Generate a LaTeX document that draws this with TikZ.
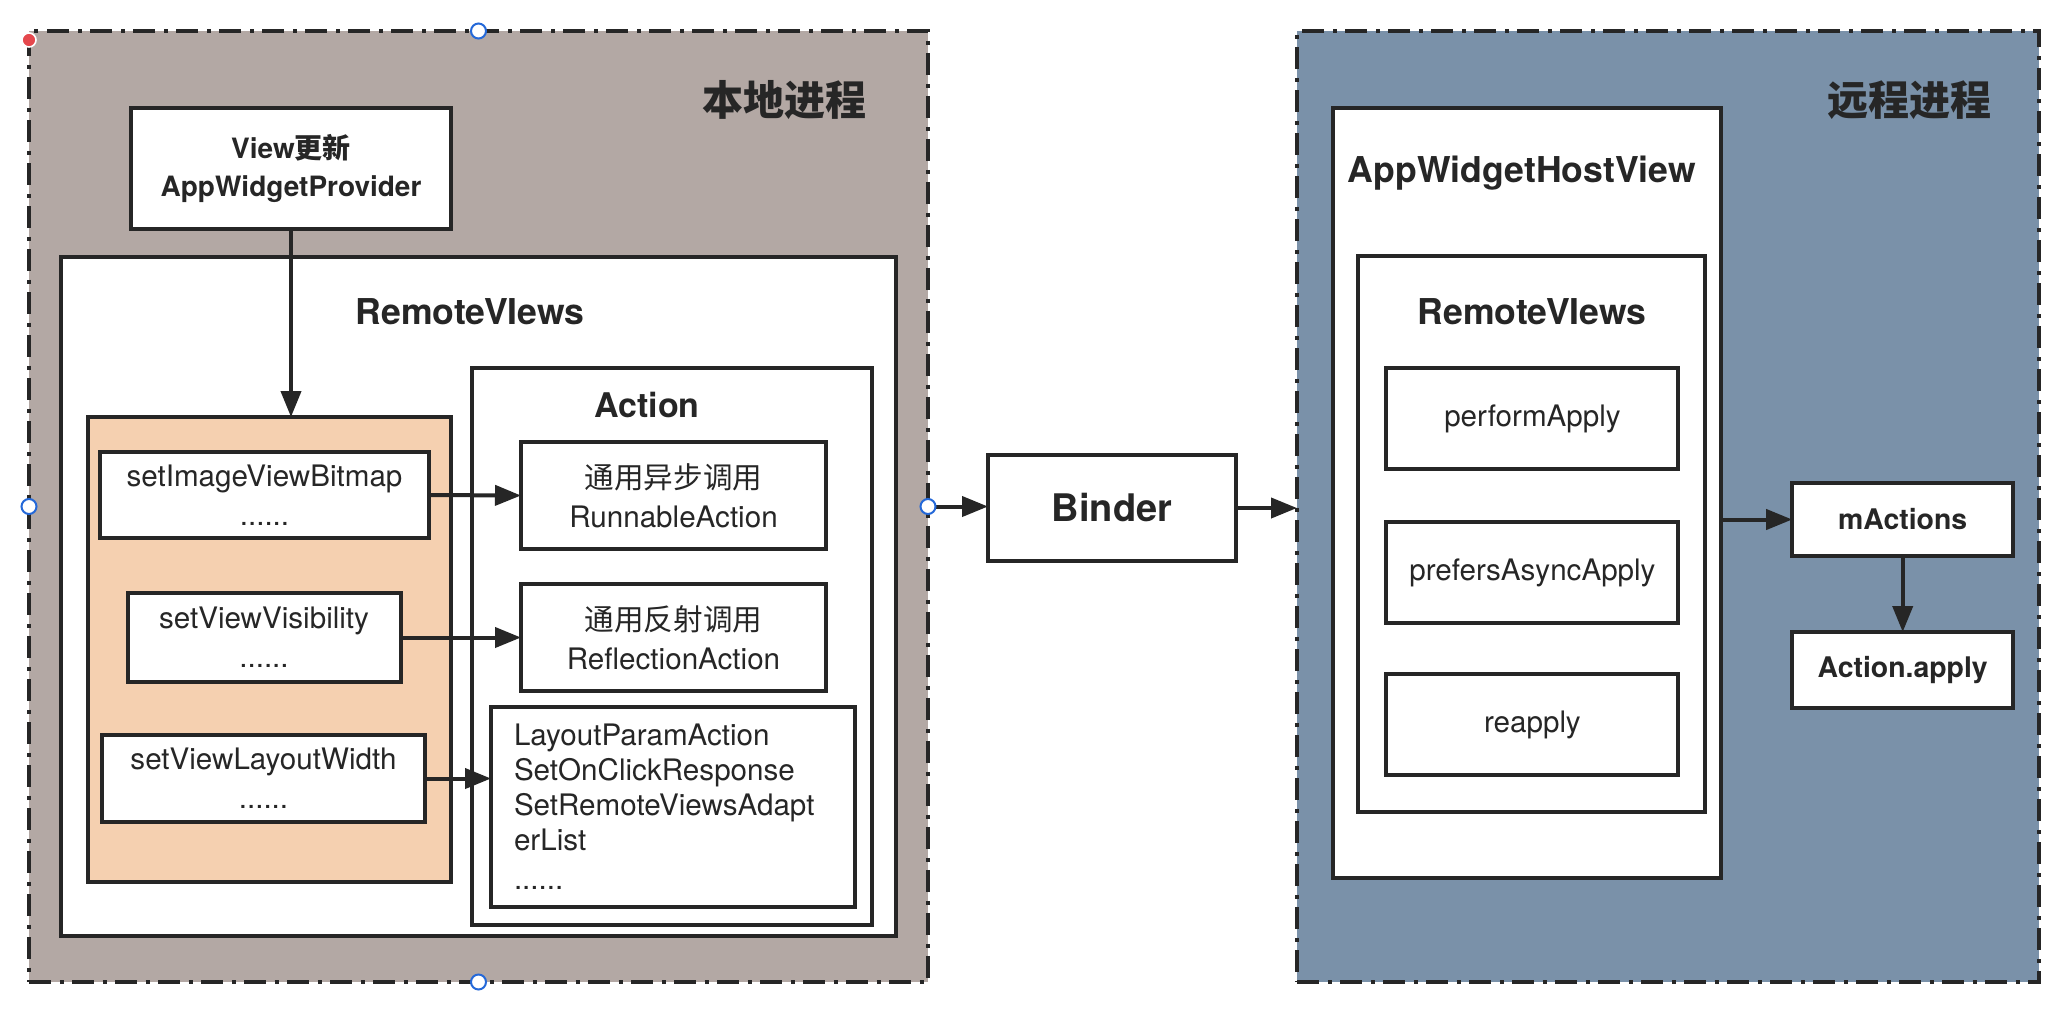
\documentclass[tikz,border=0pt]{standalone}
\usepackage{fontspec}
\setmainfont{TeX Gyre Heros}
\newfontfamily\cjk{Noto Sans CJK SC}
\usetikzlibrary{arrows.meta}
\definecolor{localbg}{HTML}{B3A8A4}
\definecolor{remotebg}{HTML}{7A91A9}
\definecolor{setbg}{HTML}{F5D0B0}
\definecolor{ink}{HTML}{262626}
\definecolor{handle}{HTML}{2468D8}
\definecolor{reddot}{HTML}{E5484D}

\begin{document}
\begin{tikzpicture}[x=0.5pt,y=-0.5pt,
    wh/.style 2 args={minimum width=#1*0.5pt,minimum height=#2*0.5pt},
    proc/.style={draw=ink,line width=2pt,dash pattern=on 11pt off 4.25pt on 2pt off 4.25pt,inner sep=0pt,outer sep=0pt},
    box/.style={draw=ink,fill=white,line width=2pt,inner sep=0pt,outer sep=0pt,align=center,text=ink,font=\fontsize{14.8}{19.5}\selectfont},
    bbox/.style={box,font=\fontsize{14.2}{19}\selectfont\bfseries},
    title/.style={text=ink,inner sep=0pt,font=\fontsize{17.8}{20}\selectfont\bfseries},
    arr/.style={draw=ink,line width=2pt,-{Triangle[length=13pt,width=10pt]}},
    knob/.style={circle,draw=handle,fill=white,line width=1pt,minimum size=7.5pt,inner sep=0pt}]
    \useasboundingbox (0,0) rectangle (2050,1008);

    % local process
    \node[proc,fill=localbg,wh={899}{951}] (local) at (478.5,506.5) {};
    \node[text=ink,font=\cjk\fontsize{20.5}{24}\selectfont\bfseries] (localtitle) at (784,100) {本地进程};
    \node[bbox,wh={320}{121},font=\fontsize{14}{19}\selectfont\bfseries] (provider) at (291,168.5) {View{\cjk 更新}\\AppWidgetProvider};
    \node[box,wh={835}{679}] (rv) at (478.5,596.5) {};
    \node[title] (rvtitle) at (470,312) {RemoteVIews};
    \node[box,fill=setbg,wh={363}{465}] (setters) at (269.5,649.5) {};
    \node[box,wh={400}{557}] (action) at (672,646.5) {};
    \node[title,font=\fontsize{17}{20}\selectfont\bfseries] (actiontitle) at (647,405) {Action};

    \node[box,wh={329}{86}] (bitmap) at (264.5,495) {setImageViewBitmap\\......};
    \node[box,wh={273}{89}] (visib) at (264,637.5) {setViewVisibility\\......};
    \node[box,wh={323}{87}] (layoutw) at (263.5,778.5) {setViewLayoutWidth\\......};

    \node[box,wh={305}{107}] (runnable) at (673.5,495.5) {{\cjk 通用异步调用}\\RunnableAction};
    \node[box,wh={305}{107}] (reflect) at (673.5,637.5) {{\cjk 通用反射调用}\\ReflectionAction};
    \node[box,wh={364}{200},align=left,text width=159pt,inner xsep=11.5pt,font=\fontsize{14.8}{17.5}\selectfont] (others) at (673,807)
        {LayoutParamAction\\SetOnClickResponse\\SetRemoteViewsAdapt\\erList\\[2pt]......};

    % remote process
    \node[proc,fill=remotebg,wh={742}{951}] (remote) at (1668,506.5) {};
    \node[text=ink,font=\cjk\fontsize{20.5}{24}\selectfont\bfseries] (remotetitle) at (1909,100) {远程进程};
    \node[box,wh={388}{770}] (host) at (1527,493) {};
    \node[title] (hosttitle) at (1522,173) {AppWidgetHostView};
    \node[box,wh={347}{556}] (rv2) at (1531.7,534) {};
    \node[title] (rv2title) at (1532,312) {RemoteVIews};
    \node[box,wh={292}{101}] (perform) at (1532.4,418.5) {performApply};
    \node[box,wh={292}{101}] (prefers) at (1532.4,572.5) {prefersAsyncApply};
    \node[box,wh={292}{101}] (reapply) at (1532.4,724.5) {reapply};
    \node[bbox,wh={221}{73}] (mactions) at (1902.7,519.5) {mActions};
    \node[bbox,wh={221}{76}] (apply) at (1902.7,670) {Action.apply};

    \node[bbox,wh={248}{106},font=\fontsize{19}{20}\selectfont\bfseries] (binder) at (1112,508) {Binder};

    % arrows
    \draw[arr] (provider.south) -- (provider.south |- setters.north);
    \draw[arr] (bitmap.east) -- (runnable.west);
    \draw[arr] (visib.east) -- (reflect.west);
    \draw[arr] (layoutw.east) -- (layoutw.east -| others.west);
    \draw[arr] (local.east) -- (local.east -| binder.west);
    \draw[arr] (binder.east) -- (binder.east -| remote.west);
    \draw[arr] (mactions.west -| host.east) -- (mactions.west);
    \draw[arr] (mactions.south) -- (apply.north);

    % selection handles
    \node[knob] (knobn) at (local.north) {};
    \node[knob] (knobs) at (local.south) {};
    \node[knob] (knobw) at (local.west) {};
    \node[knob] (knobe) at (local.east) {};
    \node[circle,fill=reddot,draw=white,line width=0.8pt,minimum size=7pt,inner sep=0pt] (corner) at (29,40) {};
\end{tikzpicture}
\end{document}
